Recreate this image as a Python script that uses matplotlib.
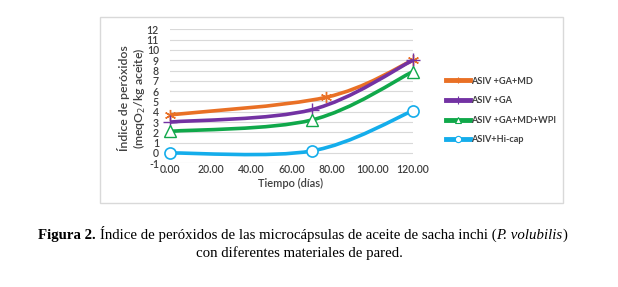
import matplotlib
matplotlib.use("Agg")
import matplotlib.pyplot as plt
import numpy as np
from matplotlib.path import Path
from matplotlib.patches import PathPatch, Rectangle
from matplotlib.lines import Line2D

plt.rcParams["axes.unicode_minus"] = False

series_names = ["ASIV +GA+MD", "ASIV +GA", "ASIV +GA+MD+WPI", "ASIV+Hi-cap"]
x_orange = [0, 77, 120]
y_orange = [3.7, 5.4, 9.0]
x_purple = [0, 70, 120]
y_purple = [3.0, 4.2, 9.0]
x_green = [0, 70, 120]
y_green = [2.1, 3.2, 7.9]
x_blue = [0, 70, 120]
y_blue = [0.0, 0.2, 4.1]
x_ticks = [0, 20, 40, 60, 80, 100, 120]
y_ticks = list(range(-1, 13))

colors = ["#E97025", "#7332A3", "#10A84A", "#14ADEB"]

FONT = "Lato"
TXT = "#404040"

fig = plt.figure(figsize=(6.18, 2.87), dpi=100)
W, H = 618, 287

# outer chart frame
fig.patches.append(Rectangle((100 / W, 1 - 203 / H), 463 / W, (203 - 16.7) / H,
                             transform=fig.transFigure, fill=False,
                             edgecolor="#D9D9D9", lw=1.0))

ax = fig.add_axes([170 / W, 1 - 163.3 / H, 243 / W, (163.3 - 29.3) / H])
ax.set_xlim(0, 120)
ax.set_ylim(-1, 12)
for s in ax.spines.values():
    s.set_visible(False)
ax.set_yticks(y_ticks)
ax.set_xticks(x_ticks)
ax.set_xticklabels([f"{v:.2f}" for v in x_ticks])
ax.grid(axis="y", color="#D9D9D9", lw=0.8)
ax.tick_params(length=0, labelsize=7.6, colors=TXT, pad=0.5)
ax.tick_params(axis="y", pad=8)
for lab in ax.get_xticklabels() + ax.get_yticklabels():
    lab.set_fontfamily(FONT)
    lab.set_fontweight("semibold")


def smooth_path(xs, ys):
    P = np.column_stack([xs, ys]).astype(float)
    n = len(P)
    verts = [P[0]]
    codes = [Path.MOVETO]
    for i in range(n - 1):
        p0 = P[i - 1] if i > 0 else P[i]
        p1 = P[i]
        p2 = P[i + 1]
        p3 = P[i + 2] if i + 2 < n else P[i + 1]
        c1 = p1 + (p2 - p0) / 6.0
        c2 = p2 - (p3 - p1) / 6.0
        verts += [c1, c2, p2]
        codes += [Path.CURVE4] * 3
    return Path(verts, codes)


data = [(x_orange, y_orange), (x_purple, y_purple), (x_green, y_green), (x_blue, y_blue)]
markers = [dict(marker=(6, 2, 0), ms=8, mfc="none", mew=1.0),
           dict(marker="+", ms=10, mfc="none", mew=1.0),
           dict(marker="^", ms=8, mfc="white", mew=1.0),
           dict(marker="o", ms=8, mfc="white", mew=1.2)]

for i, ((xs, ys), c, m) in enumerate(zip(data, colors, markers)):
    patch = PathPatch(smooth_path(xs, ys), fill=False, edgecolor=c, lw=2.6,
                      capstyle="butt", zorder=3 + 2 * i, clip_on=False)
    ax.add_patch(patch)
    ax.plot(xs, ys, ls="none", color=c, mec=c, zorder=4 + 2 * i, clip_on=False, **m)

# axis labels
fig.text(124 / W, 1 - 98 / H, "Índice de peróxidos", rotation=90, ha="center",
         va="center", fontsize=8.8, color=TXT, family=FONT, fontweight="semibold")
fig.text(140 / W, 1 - 98 / H, "(meqO$_2$/kg aceite)", rotation=90, ha="center",
         va="center", fontsize=8.8, color=TXT, family=FONT, fontweight="semibold")
fig.text(291 / W, 1 - 183 / H, "Tiempo (días)", ha="center", va="center",
         fontsize=8, color=TXT, family=FONT, fontweight="semibold")

# legend
handles = []
leg_markers = [dict(marker=(6, 2, 0), ms=4, mfc="none", mew=0.8),
               dict(marker="+", ms=6, mfc="none", mew=0.8),
               dict(marker="^", ms=4, mfc="white", mew=0.8),
               dict(marker="o", ms=4.5, mfc="white", mew=0.8)]
for c, m in zip(colors, leg_markers):
    handles.append(Line2D([], [], color=c, lw=3.5, mec=c, **m))
leg = fig.legend(handles, series_names, loc="center left",
                 bbox_to_anchor=(441 / W, 1 - 110.5 / H), frameon=False,
                 handlelength=2.7, handletextpad=0.1, labelspacing=1.15,
                 prop=dict(family=FONT, size=6.6, weight="bold"), borderpad=0)
for t in leg.get_texts():
    t.set_color(TXT)

# caption
CS = 10.7
YB1 = 1 - 239 / H
fig.text(38 / W, YB1, "Figura 2.", ha="left", va="baseline", fontsize=CS,
         family="Liberation Serif", fontweight="bold", color="black")
fig.canvas.draw()
r = fig.canvas.get_renderer()
t0 = fig.texts[-1]
bb0 = t0.get_window_extent(r)
cap = fig.text(bb0.x1 / W + 4 / W, YB1,
               "Índice de peróxidos de las microcápsulas de aceite de sacha inchi (",
               ha="left", va="baseline", fontsize=CS, family="Liberation Serif", color="black")
bb = cap.get_window_extent(r)
it = fig.text(bb.x1 / W, YB1, "P. volubilis", ha="left", va="baseline",
              fontsize=CS, family="Liberation Serif", style="italic", color="black")
bb2 = it.get_window_extent(r)
fig.text(bb2.x1 / W, YB1, ")", ha="left", va="baseline", fontsize=CS,
         family="Liberation Serif", color="black")
fig.text(299 / W, 1 - 257 / H, "con diferentes materiales de pared.", ha="center",
         va="baseline", fontsize=CS, family="Liberation Serif", color="black")

fig.savefig("out.png", dpi=100)
